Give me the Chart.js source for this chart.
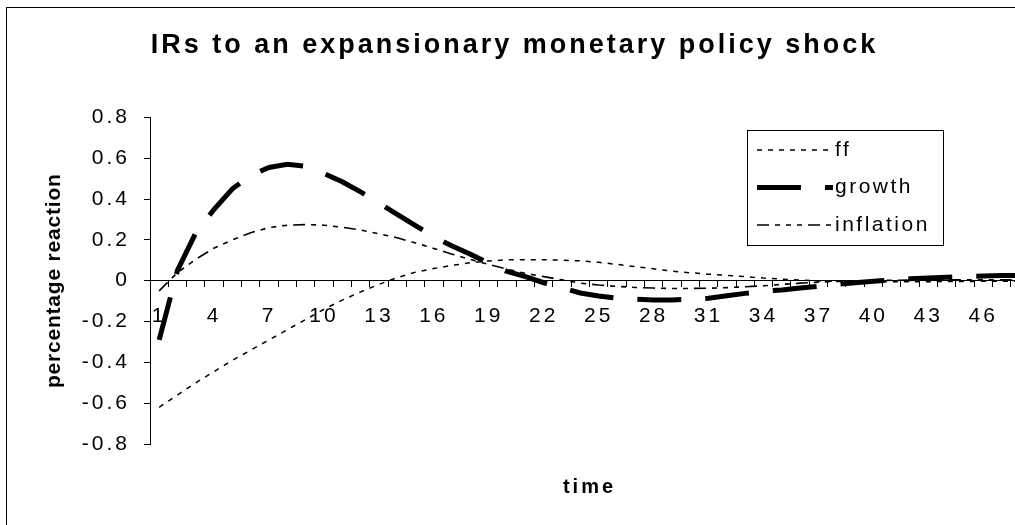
<!DOCTYPE html>
<html lang="en">
<head>
    <meta charset="UTF-8">
    <title>IRs to an expansionary monetary policy shock</title>
    <style>
        html, body { margin: 0; padding: 0; overflow: hidden; background: #fff; }
        .wrap { position: relative; width: 1015px; height: 525px; overflow: hidden; }
        #irChart { position: absolute; left: 0; top: 0; }
        /* outer chart frame, cut off on the right and bottom like the original */
        .frame { position: absolute; left: 6px; top: 7px; width: 1100px; height: 600px; border: 1px solid #000; pointer-events: none; }
    </style>
</head>
<body>
    <div class="wrap">
        <canvas id="irChart" width="1045" height="525"></canvas>
        <div class="frame"></div>
    </div>

    <script src="https://cdn.jsdelivr.net/npm/chart.js"></script>
    <script>
        const chartTitle = 'IRs to an expansionary monetary policy shock';
        const xTitle = 'time';
        const yTitle = 'percentage reaction';

        const periods = ['1','2','3','4','5','6','7','8','9','10','11','12','13','14','15','16',
                         '17','18','19','20','21','22','23','24','25','26','27','28','29','30','31','32',
                         '33','34','35','36','37','38','39','40','41','42','43','44','45','46','47','48'];
        const shownTicks = ['1','4','7','10','13','16','19','22','25','28','31','34','37','40','43','46'];

        const ff = [-0.62, -0.56, -0.50, -0.445, -0.39, -0.34, -0.29, -0.24, -0.19, -0.14, -0.095, -0.055,
                    -0.018, 0.015, 0.042, 0.06, 0.075, 0.088, 0.097, 0.102, 0.103, 0.103, 0.101, 0.097,
                    0.09, 0.08, 0.069, 0.058, 0.047, 0.039, 0.032, 0.026, 0.02, 0.013, 0.008, 0.003,
                    -0.001, -0.003, -0.004, -0.005, -0.005, -0.005, -0.005, -0.004, -0.004, -0.003, -0.003, -0.002];

        const growth = [-0.29, 0.05, 0.235, 0.35, 0.45, 0.515, 0.555, 0.57, 0.56, 0.525, 0.485, 0.435,
                        0.38, 0.325, 0.27, 0.215, 0.17, 0.13, 0.085, 0.045, 0.02, -0.01, -0.035, -0.06,
                        -0.075, -0.085, -0.09, -0.095, -0.095, -0.09, -0.086, -0.074, -0.062, -0.052, -0.045, -0.036,
                        -0.027, -0.018, -0.01, -0.003, 0.004, 0.009, 0.013, 0.017, 0.021, 0.023, 0.025, 0.026];

        const inflation = [-0.05, 0.04, 0.105, 0.16, 0.2, 0.235, 0.26, 0.272, 0.275, 0.272, 0.262, 0.248,
                           0.23, 0.21, 0.185, 0.158, 0.13, 0.104, 0.08, 0.056, 0.036, 0.02, 0.004, -0.012,
                           -0.021, -0.028, -0.033, -0.036, -0.038, -0.038, -0.037, -0.034, -0.03, -0.025, -0.018, -0.012,
                           -0.007, -0.004, -0.002, 0, 0.002, 0.003, 0.004, 0.005, 0.005, 0.005, 0.005, 0.004];

        const family = '"Liberation Sans", Arial, sans-serif';
        Chart.defaults.font.family = family;
        Chart.defaults.color = '#000';

        // the old spreadsheet export spreads its horizontal text out a bit,
        // the rotated axis title and the legend are drawn here by hand
        const excelText = {
            id: 'excelText',
            beforeUpdate(chart) { chart.ctx.letterSpacing = '3px'; },
            beforeDraw(chart) { chart.ctx.letterSpacing = '3px'; },
            afterDraw(chart) {
                const ctx = chart.ctx;
                const area = chart.chartArea;

                ctx.save();
                ctx.letterSpacing = '0.8px';
                ctx.fillStyle = '#000';
                ctx.font = 'bold 21px ' + family;
                ctx.textAlign = 'center';
                ctx.textBaseline = 'middle';
                ctx.translate(54, (area.top + area.bottom) / 2);
                ctx.rotate(-Math.PI / 2);
                ctx.fillText(yTitle, 0, 0);
                ctx.restore();

                // legend box
                ctx.save();
                ctx.letterSpacing = '2.5px';
                ctx.fillStyle = '#fff';
                ctx.fillRect(747, 130, 196, 115);
                ctx.strokeStyle = '#000';
                ctx.lineWidth = 1;
                ctx.strokeRect(747.5, 130.5, 196, 115);
                chart.data.datasets.forEach((ds, i) => {
                    const y = 150 + i * 37.5;
                    ctx.beginPath();
                    ctx.setLineDash(ds.borderDash);
                    ctx.lineWidth = ds.borderWidth;
                    ctx.lineCap = 'butt';
                    ctx.moveTo(757, y);
                    ctx.lineTo(833, y);
                    ctx.stroke();
                    ctx.setLineDash([]);
                    ctx.fillStyle = '#000';
                    ctx.font = '21px ' + family;
                    ctx.textAlign = 'left';
                    ctx.textBaseline = 'middle';
                    ctx.fillText(ds.label, 835, y);
                });
                ctx.restore();
            }
        };

        const ctx = document.getElementById('irChart').getContext('2d');
        const irChart = new Chart(ctx, {
            type: 'line',
            data: {
                labels: periods,
                datasets: [
                    { label: 'ff', data: ff, borderColor: '#000', borderWidth: 1.5, borderDash: [5, 6] },
                    { label: 'growth', data: growth, borderColor: '#000', borderWidth: 5, borderDash: [44, 24] },
                    { label: 'inflation', data: inflation, borderColor: '#000', borderWidth: 1.6, borderDash: [12, 6, 5, 6, 5, 6, 5, 6] }
                ]
            },
            options: {
                responsive: false,
                animation: false,
                events: [],
                elements: {
                    point: { radius: 0 },
                    line: { tension: 0, borderCapStyle: 'butt', fill: false }
                },
                layout: { padding: { left: 0, right: 16, top: 0, bottom: 0 } },
                plugins: {
                    legend: { display: false },
                    tooltip: { enabled: false },
                    title: {
                        display: true,
                        text: chartTitle,
                        color: '#000',
                        font: { size: 27, weight: 'bold' },
                        padding: { top: 29, bottom: 56 }
                    },
                    subtitle: {
                        display: true,
                        position: 'bottom',
                        fullSize: false,
                        text: xTitle,
                        color: '#000',
                        font: { size: 20, weight: 'bold' },
                        padding: { top: 31, bottom: 26 }
                    }
                },
                scales: {
                    x: {
                        position: { y: 0 },
                        offset: true,
                        grid: { offset: true, drawOnChartArea: false, tickLength: 6, color: '#000' },
                        border: { color: '#000' },
                        ticks: {
                            autoSkip: false,
                            maxRotation: 0,
                            padding: 17,
                            color: '#000',
                            font: { size: 21 },
                            callback(value) {
                                const label = this.getLabelForValue(value);
                                return shownTicks.includes(label) ? label : '';
                            }
                        }
                    },
                    y: {
                        min: -0.8,
                        max: 0.8,
                        afterFit(scale) { scale.width = 150; },
                        grid: { drawOnChartArea: false, tickLength: 6, color: '#000' },
                        border: { color: '#000' },
                        ticks: {
                            stepSize: 0.2,
                            padding: 14,
                            color: '#000',
                            font: { size: 21 },
                            callback: (v) => String(Number(v.toFixed(1)))
                        }
                    }
                }
            },
            plugins: [excelText]
        });
    </script>
</body>
</html>
